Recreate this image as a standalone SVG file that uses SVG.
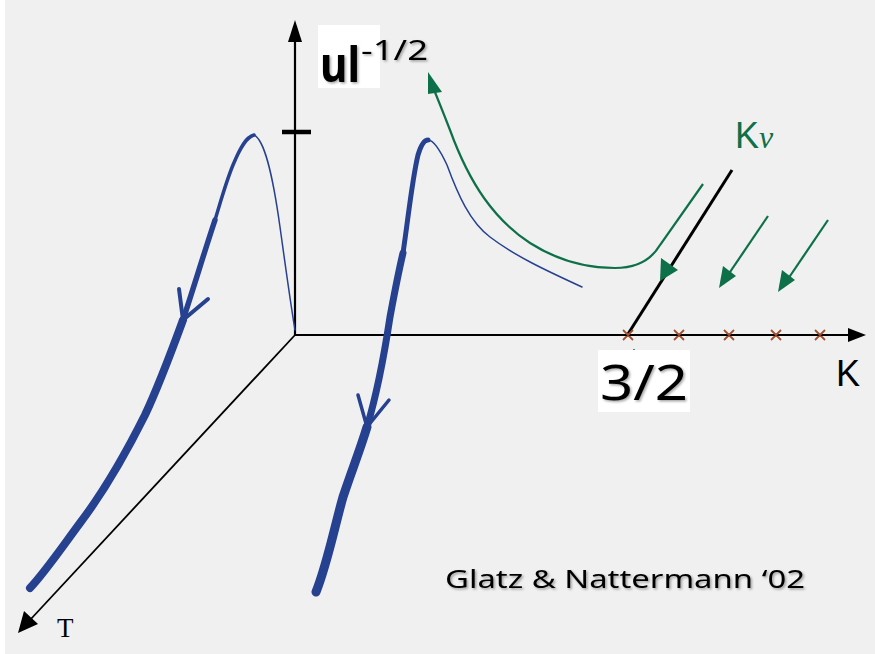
<svg xmlns="http://www.w3.org/2000/svg" width="875" height="654" viewBox="0 0 875 654">
<defs>
<style>
.ax{stroke:#000;stroke-width:2.2;fill:none}
.blue{stroke:#26418f;fill:none;stroke-linecap:round;stroke-linejoin:round}
.green{stroke:#0e7048;fill:none;stroke-width:2.2}
.cross{stroke:#a0502f;stroke-width:1.8}
.hand{font-family:"Comic Sans MS","Noto Sans","DejaVu Sans",sans-serif;fill:#000}
</style>
<filter id="sh" x="-10%" y="-10%" width="120%" height="130%">
<feDropShadow dx="1.5" dy="1.5" stdDeviation="0.8" flood-color="#000" flood-opacity="0.35"/>
</filter>
</defs>
<rect x="0" y="0" width="875" height="654" fill="#fff"/>
<rect x="5" y="0" width="870" height="654" fill="#f0f0f0"/>

<g id="axes">
<line class="ax" x1="295" y1="335" x2="295" y2="40"/>
<path d="M295,20 L302,42 L288,42 z" fill="#000"/>
<line x1="282" y1="132" x2="311" y2="132" stroke="#000" stroke-width="4.5"/>
<line class="ax" x1="295" y1="335" x2="850" y2="335"/>
<path d="M866,335 L848,328 L848,342 z" fill="#000"/>
<line x1="295" y1="335" x2="30" y2="620" stroke="#000" stroke-width="1.8"/>
<path d="M18,633 L24,611 L38,624 z" fill="#000"/>
</g>

<g id="curve-left">
<path class="blue" stroke-width="1.5" d="M254,135 C264,140 272,170 280,227 C286,270 290,300 295,330"/>
<path class="blue" stroke-width="3.5" d="M254,135 C246,137 240,148 233,165 C226,182 222,197 215,220"/>
<path class="blue" stroke-width="5.5" d="M215,220 C205,250 196,280 183,320"/>
<path class="blue" stroke-width="8" d="M183,320 C172,350 160,383 145,415 C125,455 105,490 80,523 C60,550 45,572 30,588"/>
<path class="blue" stroke-width="4" d="M179,289 L183,320 L208,299"/>
</g>

<g id="curve-right">
<path class="blue" stroke-width="9" d="M316,592 C327,565 335,525 343,497 C352,470 360,450 367,427"/>
<path class="blue" stroke-width="7" d="M367,427 C378,390 385,350 390,317 C395,290 399,270 403,253"/>
<path class="blue" stroke-width="5" d="M403,253 C408,220 412,180 418,155 C421,145 424,140 428,140"/>
<path class="blue" stroke-width="1.5" d="M428,140 C434,140 440,150 447,165 C458,195 470,222 490,237 C515,256 545,270 582,287"/>
<path class="blue" stroke-width="3.5" d="M358,395 L367,427 L389,400"/>
</g>

<g id="kv-line">
<line x1="628" y1="334" x2="732" y2="170" stroke="#000" stroke-width="3"/>
<path d="M660,281 L661,258 L678,270 z" fill="#0e7048"/>
</g>

<g id="green-flow">
<path class="green" d="M703,184 L660,245 C650,262 635,268 615,268 C590,268 560,262 530,243 C495,220 470,185 450,130 C443,112 437,97 432,85"/>
<path d="M428,72 L442,92 L428,94 z" fill="#0e7048"/>
<line class="green" x1="768" y1="216" x2="728" y2="275"/>
<path d="M719,288 L723,266 L736,276 z" fill="#0e7048"/>
<line class="green" x1="828" y1="220" x2="788" y2="279"/>
<path d="M778,292 L782,270 L795,280 z" fill="#0e7048"/>
</g>

<g id="fixed-points">
<path class="cross" d="M623,330 l10,10 M633,330 l-10,10 M674,330 l10,10 M684,330 l-10,10 M724,330 l10,10 M734,330 l-10,10 M771,330 l10,10 M781,330 l-10,10 M815,330 l10,10 M825,330 l-10,10"/>
<circle cx="634" cy="350" r="1" fill="#0e7048"/>
</g>

<g id="labels">
<rect x="318" y="25" width="62" height="63" fill="#fff"/>
<text class="hand" filter="url(#sh)" x="320" y="82" font-size="48" font-weight="bold" textLength="40" lengthAdjust="spacingAndGlyphs">ul</text>
<text class="hand" filter="url(#sh)" x="361" y="60" font-size="28" textLength="67" lengthAdjust="spacingAndGlyphs">-1/2</text>
<rect x="598" y="350" width="92" height="62" fill="#fff"/>
<text class="hand" filter="url(#sh)" x="600" y="400" font-size="50" textLength="88" lengthAdjust="spacingAndGlyphs">3/2</text>
<text x="735" y="148" font-family="'Liberation Sans',Arial,sans-serif" font-size="36" fill="#0e7048">K<tspan font-family="'Liberation Serif',serif" font-style="italic" font-size="32">v</tspan></text>
<text x="836" y="386" font-family="'Liberation Sans',Arial,sans-serif" font-size="36" fill="#000">K</text>
<text x="57" y="637" font-family="'Liberation Serif',serif" font-size="27" fill="#000">T</text>
<text class="hand" filter="url(#sh)" x="445" y="588" font-size="25" textLength="360" lengthAdjust="spacingAndGlyphs">Glatz &amp; Nattermann  ‘02</text>
</g>
</svg>
